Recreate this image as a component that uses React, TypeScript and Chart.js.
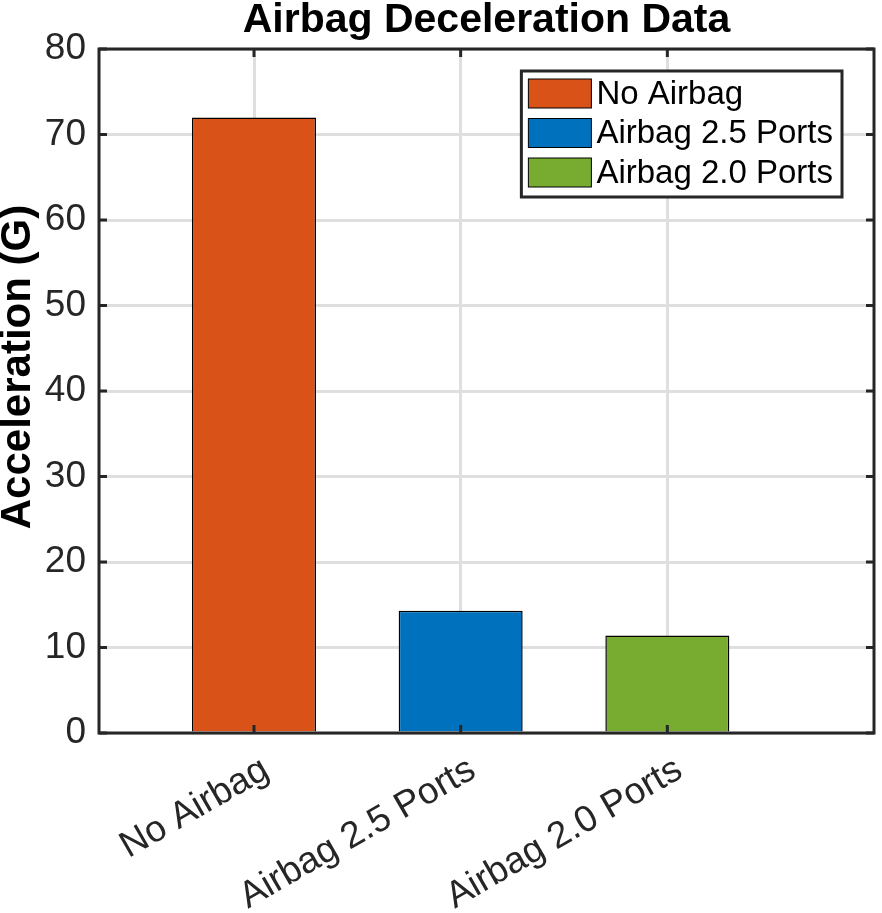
import { useEffect, useRef } from "react";
import { Chart, registerables, type ChartConfiguration, type Plugin } from "chart.js";

Chart.register(...registerables);

const categories = ["No Airbag", "Airbag 2.5 Ports", "Airbag 2.0 Ports"];
const values = [72, 14.3, 11.4];
const colors = ["#D95319", "#0072BD", "#77AC30"];
const yTicks = [0, 10, 20, 30, 40, 50, 60, 70, 80];
const yTitle = "Acceleration (G)";

const AXIS = "#262626";
const GRID = "#dfdfdf";
const FAMILY = "Arial, 'Liberation Sans', Helvetica, sans-serif";

// MATLAB-ish box around the axes with inward tick marks, plus the legend and y label
const matlabPlugin: Plugin<"bar"> = {
  id: "matlabFrame",
  afterDatasetsDraw(chart) {
    const { ctx, chartArea: a, scales } = chart;
    const x = scales.x;
    const y = scales.y;
    ctx.save();
    ctx.strokeStyle = AXIS;
    ctx.lineWidth = 3;
    ctx.strokeRect(a.left, a.top, a.right - a.left, a.bottom - a.top);
    const len = 8;
    ctx.beginPath();
    yTicks.forEach((v) => {
      const py = y.getPixelForValue(v);
      ctx.moveTo(a.left, py);
      ctx.lineTo(a.left + len, py);
      ctx.moveTo(a.right, py);
      ctx.lineTo(a.right - len, py);
    });
    categories.forEach((_, i) => {
      const px = x.getPixelForValue(i + 1);
      ctx.moveTo(px, a.bottom);
      ctx.lineTo(px, a.bottom - len);
      ctx.moveTo(px, a.top);
      ctx.lineTo(px, a.top + len);
    });
    ctx.stroke();
    ctx.restore();
  },
  afterDraw(chart) {
    const { ctx, chartArea: a } = chart;
    ctx.save();

    // y axis title
    ctx.translate(18, (a.top + a.bottom) / 2 - 24);
    ctx.rotate(-Math.PI / 2);
    ctx.font = `bold 42px ${FAMILY}`;
    ctx.fillStyle = "#000";
    ctx.textAlign = "center";
    ctx.textBaseline = "middle";
    ctx.fillText(yTitle, 0, 0);
    ctx.setTransform(1, 0, 0, 1, 0, 0);

    // legend
    ctx.font = `33px ${FAMILY}`;
    const tw = Math.max(...categories.map((c) => ctx.measureText(c).width));
    const sw = 63, sh = 29, rowH = 39.5, padL = 7, gap = 5, padR = 9;
    const right = a.right - 32;
    const top = a.top + 22;
    const w = padL + sw + gap + tw + padR;
    const h = 126;
    const left = right - w;
    ctx.fillStyle = "#fff";
    ctx.fillRect(left, top, w, h);
    ctx.strokeStyle = AXIS;
    ctx.lineWidth = 3;
    ctx.strokeRect(left, top, w, h);
    categories.forEach((c, i) => {
      const sy = top + 8 + i * rowH;
      ctx.fillStyle = colors[i];
      ctx.fillRect(left + padL, sy, sw, sh);
      ctx.lineWidth = 1;
      ctx.strokeStyle = "#000";
      ctx.strokeRect(left + padL, sy, sw, sh);
      ctx.fillStyle = "#000";
      ctx.textAlign = "left";
      ctx.textBaseline = "middle";
      ctx.fillText(c, left + padL + sw + gap, sy + sh / 2 + 1);
    });
    ctx.restore();
  },
};

export default function App() {
  const canvasRef = useRef<HTMLCanvasElement>(null);
  const chartRef = useRef<Chart | null>(null);

  useEffect(() => {
    document.body.style.margin = "0";
    if (!canvasRef.current) return;
    chartRef.current?.destroy();

    const cfg: ChartConfiguration<"bar"> = {
      type: "bar",
      data: {
        datasets: [
          {
            label: "Acceleration",
            data: values.map((v, i) => ({ x: i + 1, y: v })) as any,
            backgroundColor: colors,
            borderColor: "#000",
            borderWidth: 1.5,
            barPercentage: 0.6,
            categoryPercentage: 1,
          },
        ],
      },
      options: {
        animation: false,
        responsive: true,
        maintainAspectRatio: false,
        devicePixelRatio: 1,
        layout: { padding: { left: 0, right: 8, top: 0, bottom: 0 } },
        plugins: {
          legend: { display: false },
          tooltip: { enabled: false },
          title: {
            display: true,
            text: "Airbag Deceleration Data",
            fullSize: false,
            color: "#000",
            font: { family: FAMILY, size: 41, weight: "bold", lineHeight: 1 },
            padding: { top: 0, bottom: 8 },
          },
        },
        scales: {
          x: {
            type: "linear",
            min: 0.25,
            max: 4,
            offset: false,
            afterBuildTicks: (s) => {
              s.ticks = categories.map((_, i) => ({ value: i + 1 }));
            },
            afterFit: (s) => {
              s.height = 180;
            },
            grid: { color: GRID, lineWidth: 3, drawTicks: false, offset: false },
            border: { display: false },
            ticks: {
              autoSkip: false,
              minRotation: 30,
              maxRotation: 30,
              padding: 15,
              labelOffset: 12,
              color: AXIS,
              font: { family: FAMILY, size: 37 },
              callback: (v) => categories[Number(v) - 1] ?? "",
            },
          },
          y: {
            min: 0,
            max: 80,
            afterFit: (s) => {
              s.width = 99;
            },
            grid: { color: GRID, lineWidth: 3, drawTicks: false },
            border: { display: false },
            ticks: {
              stepSize: 10,
              padding: 13,
              color: AXIS,
              font: { family: FAMILY, size: 37 },
            },
          },
        },
      },
      plugins: [matlabPlugin],
    };

    chartRef.current = new Chart(canvasRef.current, cfg);
    return () => {
      chartRef.current?.destroy();
      chartRef.current = null;
    };
  }, []);

  return (
    <div style={{ position: "relative", width: 882, height: 913, background: "#fff" }}>
      <canvas ref={canvasRef} />
    </div>
  );
}
